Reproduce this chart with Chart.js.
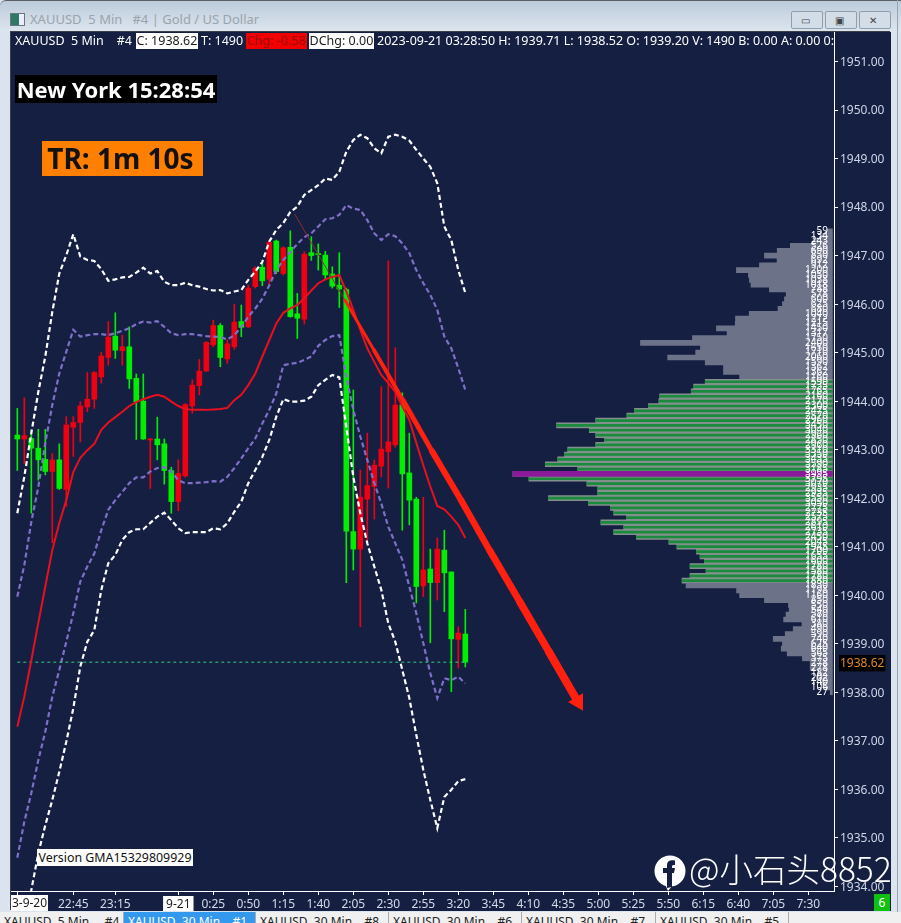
<!DOCTYPE html>
<html>
<head>
<meta charset="utf-8">
<title>XAUUSD 5 Min</title>
<script src="https://cdn.jsdelivr.net/npm/chart.js@4"></script>
<style>
  html, body { margin: 0; padding: 0; }
  body { width: 901px; height: 923px; position: relative; overflow: hidden; background: #dbe4ee; font-family: "Noto Sans", sans-serif; }
  #titlebar { position: absolute; left: 0; top: 0; width: 901px; height: 32px; background: linear-gradient(#bccbdb, #dde6ef); border-top: 1px solid #5b5f63; box-sizing: border-box; border-top-left-radius: 6px; }
  #titletext { position: absolute; left: 30px; top: 9px; font-size: 13px; color: #9aa3ab; white-space: pre; }
  #titleicon { position: absolute; left: 10px; top: 12px; width: 13px; height: 11px; border: 1px solid #6b7580; background: linear-gradient(90deg, #2c7a66 60%, #eef 60%); }
  .winbtn { position: absolute; top: 10px; width: 30px; height: 16px; border: 1px solid #8f9dac; border-radius: 2px; background: #d2dde8; }
  .winbtn span { position: absolute; left: 9px; top: 3px; font-size: 10px; line-height: 10px; color: #444; }
  #panel { position: absolute; left: 11px; top: 32px; width: 880px; height: 879px; background: #141f42; box-shadow: -1px -1px 0 #3c4046; }
  canvas { position: absolute; left: 0; top: 0; }
  .hdr { position: absolute; top: 33px; height: 16px; line-height: 16px; font-size: 12.5px; color: #fff; white-space: pre; }
  .box { background: #fff; color: #1b1b1b; text-align: center; }
  #chg { background: #f00000; color: #980808; text-align: center; }
  #hdrclip { position: absolute; left: 376px; top: 33px; width: 458px; height: 16px; overflow: hidden; }
  #clock { position: absolute; left: 15px; top: 75px; width: 202px; height: 28px; line-height: 28px; background: #000; color: #fff; font-weight: bold; font-size: 22px; text-align: center; white-space: pre; }
  #tr { position: absolute; left: 42px; top: 141px; width: 157px; height: 35px; padding-right: 4px; line-height: 35px; background: #ff7f00; color: #111; font-weight: bold; font-size: 28px; text-align: center; white-space: pre; }
  #version { position: absolute; left: 37px; top: 849px; width: 156px; height: 17px; line-height: 17px; background: #fff; color: #111; font-size: 12.4px; text-align: center; white-space: pre; }
  #firstdate { position: absolute; left: 11px; top: 895px; width: 37px; height: 16px; line-height: 16px; background: #fff; color: #1b1b1b; font-size: 12px; text-align: center; }
  #corner { position: absolute; left: 835px; top: 891px; width: 56px; height: 20px; background: #141f42; }
  #count { position: absolute; left: 39px; top: 3px; width: 16px; height: 17px; line-height: 17px; background: #10c010; color: #fff; font-size: 12px; text-align: center; }
  #wm { position: absolute; left: 689px; top: 846px; width: 203px; height: 44px; overflow: hidden; line-height: 44px; font-size: 33.5px; color: #fff; font-family: "Noto Sans CJK SC", "Noto Sans", sans-serif; font-weight: 300; white-space: pre; }
  #fb { position: absolute; left: 654px; top: 855px; }
  #tabs { position: absolute; left: 0; top: 912px; width: 901px; height: 11px; overflow: hidden; background: #f0f0f0; }
  .tab { position: absolute; top: 0; height: 11px; overflow: hidden; font-size: 12px; line-height: 19px; color: #222; white-space: pre; border-right: 1px solid #aaa; padding-left: 4px; box-sizing: border-box; }
  #rightedge { position: absolute; left: 897px; top: 0; width: 1px; height: 923px; background: #9aa5b0; }
</style>
</head>
<body>
<div id="titlebar">
  <div id="titleicon"></div>
  <div id="titletext">XAUUSD  5 Min   #4 | Gold / US Dollar</div>
  <div class="winbtn" style="left:791px"><span>▭</span></div>
  <div class="winbtn" style="left:825px"><span>▣</span></div>
  <div class="winbtn" style="left:859px"><span>✕</span></div>
</div>
<div id="rightedge"></div>
<div id="panel"></div>
<canvas id="chart" width="901" height="923"></canvas>
<div class="hdr" style="left:15px">XAUUSD  5 Min    #4</div>
<div class="hdr box" style="left:136px;width:62px">C: 1938.62</div>
<div class="hdr" style="left:201px">T: 1490</div>
<div class="hdr" id="chg" style="left:246px;width:61px">Chg: -0.58</div>
<div class="hdr box" style="left:309px;width:65px">DChg: 0.00</div>
<div id="hdrclip"><div class="hdr" style="left:1px;top:0">2023-09-21 03:28:50 H: 1939.71 L: 1938.52 O: 1939.20 V: 1490 B: 0.00 A: 0.00 0:00</div></div>
<div id="clock">New York 15:28:54</div>
<div id="tr">TR: 1m 10s</div>
<div id="version">Version GMA15329809929</div>
<div id="firstdate">3-9-20</div>
<div id="corner"><div id="count">6</div></div>
<svg id="fb" width="32" height="36" viewBox="0 0 32 36">
  <circle cx="16" cy="16" r="15.5" fill="#fff"/>
  <path d="M11 29 L14 36 L19 30 Z" fill="#fff"/>
  <path d="M13 33 V18 H9 V13 H13 V10 C13 6 16 4.5 21 5.5 V10 C18 9.5 18 10.5 18 13 H21 L20 18 H18 V32 Z" fill="#141f42"/>
</svg>
<div id="wm">@小石头8852</div>
<div id="tabs">
  <div class="tab" style="left:0;width:124px">XAUUSD  5 Min     #4</div>
  <div class="tab" style="left:124px;width:132px;background:#3399ee;color:#fff">XAUUSD  30 Min    #1</div>
  <div class="tab" style="left:256px;width:133px">XAUUSD  30 Min    #8</div>
  <div class="tab" style="left:389px;width:133px">XAUUSD  30 Min    #6</div>
  <div class="tab" style="left:522px;width:134px">XAUUSD  30 Min    #7</div>
  <div class="tab" style="left:656px;width:133px">XAUUSD  30 Min    #5</div>
</div>
<script>
const candleOpen = [1943.30,1943.22,1943.23,1943.03,1942.80,1942.55,1942.79,1942.18,1943.46,1943.56,1943.88,1944.04,1944.50,1944.90,1945.34,1945.04,1945.12,1944.47,1944.00,1943.20,1943.22,1943.12,1942.57,1941.93,1942.46,1943.90,1944.32,1944.62,1945.16,1945.56,1944.87,1945.12,1945.64,1945.53,1946.36,1946.76,1946.51,1947.30,1946.63,1947.17,1945.80,1945.69,1947.06,1947.03,1947.01,1946.62,1946.39,1946.30,1941.31,1940.95,1941.98,1942.24,1942.66,1942.96,1943.10,1943.92,1942.52,1941.98,1940.19,1940.54,1940.26,1940.93,1940.48,1939.09,1939.20];
const candleHigh = [1943.85,1944.07,1943.40,1943.42,1943.42,1942.92,1943.12,1943.68,1943.68,1943.99,1944.59,1944.61,1945.01,1945.64,1945.82,1945.36,1945.53,1944.56,1944.56,1943.23,1943.67,1943.22,1942.64,1942.79,1943.95,1944.44,1944.86,1945.23,1945.67,1945.60,1945.26,1946.00,1945.98,1946.39,1946.77,1946.84,1947.32,1947.32,1947.18,1947.51,1946.22,1947.08,1947.39,1947.24,1947.09,1946.77,1947.06,1946.33,1944.23,1942.58,1943.34,1942.79,1944.30,1946.89,1945.10,1944.17,1943.34,1942.02,1942.02,1940.95,1941.18,1941.34,1940.48,1939.35,1939.71];
const candleLow = [1942.57,1942.72,1941.69,1942.37,1942.48,1941.08,1942.18,1941.83,1942.86,1943.16,1943.78,1943.85,1944.37,1944.74,1944.88,1944.74,1944.26,1943.21,1943.21,1942.20,1942.79,1942.29,1941.69,1941.74,1942.43,1943.75,1944.13,1944.61,1945.12,1944.71,1944.78,1945.07,1945.33,1945.52,1946.33,1946.38,1946.36,1946.63,1946.60,1945.73,1945.29,1945.59,1946.90,1946.70,1946.50,1946.33,1945.93,1940.26,1940.52,1939.35,1941.08,1941.57,1942.44,1942.21,1943.05,1941.34,1941.45,1939.84,1939.97,1939.02,1939.90,1939.66,1938.01,1938.50,1938.52];
const candleClose = [1943.22,1943.29,1943.03,1942.79,1942.55,1942.79,1942.20,1943.51,1943.56,1943.90,1944.04,1944.59,1944.93,1945.32,1945.05,1945.12,1944.46,1943.99,1943.22,1943.22,1943.10,1942.57,1941.93,1942.51,1943.93,1944.33,1944.62,1945.21,1945.56,1944.90,1945.18,1945.63,1945.52,1946.33,1946.74,1946.48,1947.27,1946.67,1947.16,1945.74,1945.71,1947.03,1947.00,1947.02,1946.60,1946.37,1946.31,1941.32,1940.95,1942.02,1942.26,1942.68,1943.01,1943.16,1943.92,1942.50,1941.96,1940.18,1940.52,1940.26,1940.95,1940.46,1939.10,1939.22,1938.62];

const maLine = [1937.29,1937.91,1938.66,1939.43,1940.18,1940.93,1941.49,1941.96,1942.54,1942.83,1942.99,1943.12,1943.41,1943.56,1943.67,1943.78,1943.90,1943.98,1944.04,1944.09,1944.13,1944.09,1943.99,1943.90,1943.84,1943.82,1943.82,1943.82,1943.83,1943.84,1943.86,1944.02,1944.13,1944.33,1944.57,1944.92,1945.26,1945.60,1945.82,1945.91,1945.98,1946.12,1946.28,1946.43,1946.51,1946.56,1946.60,1946.26,1945.88,1945.47,1945.09,1944.81,1944.54,1944.37,1944.19,1943.89,1943.61,1943.14,1942.68,1942.24,1941.84,1941.77,1941.62,1941.45,1941.18];
const innerUpper = [1939.97,1940.62,1941.51,1942.23,1943.14,1943.92,1944.57,1945.02,1945.47,1945.33,1945.36,1945.38,1945.38,1945.36,1945.40,1945.45,1945.50,1945.59,1945.64,1945.62,1945.65,1945.53,1945.40,1945.36,1945.38,1945.38,1945.36,1945.34,1945.33,1945.32,1945.27,1945.36,1945.53,1945.74,1945.91,1946.11,1946.39,1946.70,1946.91,1947.07,1947.24,1947.38,1947.46,1947.60,1947.75,1947.77,1947.84,1948.04,1947.97,1947.94,1947.73,1947.46,1947.32,1947.44,1947.40,1947.25,1947.05,1946.70,1946.43,1946.19,1945.88,1945.33,1945.09,1944.68,1944.23];
const innerLower = [1934.59,1935.33,1935.92,1936.60,1937.19,1937.91,1938.46,1939.04,1939.63,1940.28,1940.59,1940.86,1941.34,1941.76,1941.96,1942.13,1942.31,1942.43,1942.43,1942.55,1942.62,1942.64,1942.55,1942.37,1942.31,1942.31,1942.32,1942.33,1942.35,1942.34,1942.44,1942.62,1942.82,1943.03,1943.23,1943.54,1943.82,1944.16,1944.74,1944.77,1944.79,1944.85,1944.92,1945.14,1945.26,1945.34,1945.36,1944.50,1943.82,1943.27,1942.79,1942.31,1941.89,1941.41,1941.07,1940.73,1940.18,1939.63,1939.01,1938.39,1937.88,1938.29,1938.25,1938.32,1938.18];
const outerUpper = [1941.69,1942.44,1943.34,1944.19,1944.92,1945.84,1946.63,1947.01,1947.44,1946.98,1946.91,1946.89,1946.72,1946.48,1946.51,1946.55,1946.56,1946.65,1946.75,1946.63,1946.68,1946.46,1946.39,1946.39,1946.44,1946.39,1946.36,1946.31,1946.28,1946.29,1946.22,1946.26,1946.29,1946.50,1946.67,1946.87,1947.29,1947.53,1947.67,1947.90,1948.01,1948.25,1948.35,1948.45,1948.59,1948.56,1948.73,1949.14,1949.38,1949.49,1949.42,1949.21,1949.11,1949.45,1949.49,1949.45,1949.37,1949.18,1949.00,1948.83,1948.49,1947.60,1947.32,1946.70,1946.23];
const outerLower = [1932.07,1933.00,1933.92,1934.68,1935.26,1935.78,1936.36,1936.98,1937.67,1938.53,1939.04,1939.28,1940.11,1940.66,1940.83,1941.14,1941.30,1941.36,1941.36,1941.49,1941.62,1941.70,1941.55,1941.38,1941.28,1941.30,1941.30,1941.30,1941.38,1941.36,1941.48,1941.72,1941.93,1942.31,1942.58,1942.85,1943.20,1943.68,1944.04,1943.99,1943.99,1944.01,1944.09,1944.33,1944.44,1944.54,1944.49,1943.47,1942.44,1941.69,1941.07,1940.59,1940.11,1939.42,1939.04,1938.46,1937.88,1937.12,1936.40,1935.78,1935.20,1935.84,1935.99,1936.17,1936.21];

const priceLineBars = [0, 64];
const priceLineValues = [1938.62, 1938.62];
const arrowBars = [46.81, 50.96, 55.1, 59.24, 63.39, 67.53, 71.81, 75.96, 80.1];
const arrowValues = [1946.08, 1945.05, 1944.02, 1942.97, 1941.96, 1940.91, 1939.86, 1938.83, 1937.80];
const trendBars = [39.6, 46.81];
const trendValues = [1947.86, 1946.08];

const profilePrices = [1947.5,1947.4,1947.3,1947.2,1947.1,1947.0,1946.9,1946.8,1946.7,1946.6,1946.5,1946.4,1946.3,1946.2,1946.1,1946.0,1945.9,1945.8,1945.7,1945.6,1945.5,1945.4,1945.3,1945.2,1945.1,1945.0,1944.9,1944.8,1944.7,1944.6,1944.5,1944.4,1944.3,1944.2,1944.1,1944.0,1943.9,1943.8,1943.7,1943.6,1943.5,1943.4,1943.3,1943.2,1943.1,1943.0,1942.9,1942.8,1942.7,1942.6,1942.5,1942.4,1942.3,1942.2,1942.1,1942.0,1941.9,1941.8,1941.7,1941.6,1941.5,1941.4,1941.3,1941.2,1941.1,1941.0,1940.9,1940.8,1940.7,1940.6,1940.5,1940.4,1940.3,1940.2,1940.1,1940.0,1939.9,1939.8,1939.7,1939.6,1939.5,1939.4,1939.3,1939.2,1939.1,1939.0,1938.9,1938.8,1938.7,1938.6,1938.5,1938.4,1938.3,1938.2,1938.1,1938.0];
const profileVolumes = [59,134,243,526,690,850,692,912,1200,1050,1038,1018,788,578,600,625,680,1040,1212,1215,1450,1317,1750,2400,1650,1710,2060,1590,1362,1362,1160,1590,1735,1765,2160,2170,2300,2475,2570,2960,3450,3040,2960,2850,2960,3310,3350,3435,3590,3185,3995,3795,3070,2935,2935,3550,3050,2775,2735,2575,2895,2610,2735,2450,2045,1945,1700,1655,1600,1780,1580,1780,1880,1830,1198,1160,850,550,540,580,610,380,490,590,740,625,640,565,375,278,278,182,202,140,106,27];
const valueAreaHigh = 1944.4;
const valueAreaLow = 1940.3;
const pocPrice = 1942.5;

const currentPrice = 1938.62;
const xTickBars = [0,8,14,23,28,33,38,43,48,53,58,63,68,73,78,83,88,93,98,103,108,113];
const xTickLabels = ['','22:45','23:15','9-21','0:25','0:50','1:15','1:40','2:05','2:30','2:55','3:20','3:45','4:10','4:35','5:00','5:25','5:50','6:15','6:40','7:05','7:30'];
const yTickValues = [1951,1950,1949,1948,1947,1946,1945,1944,1943,1942,1941,1940,1939,currentPrice,1938,1937,1936,1935,1934];

const bullColor = '#f00010';
const bearColor = '#00ee00';
const barIndexes = candleOpen.map((v, i) => i);
const candleColor = ctx => candleClose[ctx.dataIndex] < candleOpen[ctx.dataIndex] ? bearColor : bullColor;

function lineSet(values, color, width, dash, order) {
  return {
    type: 'line',
    data: values.map((y, i) => ({ x: i, y: y })),
    borderColor: color,
    borderWidth: width,
    borderDash: dash,
    pointRadius: 0,
    tension: 0,
    fill: false,
    order: order,
    xAxisID: 'x',
    yAxisID: 'y'
  };
}

function profileSet(rows, color, thickness, order) {
  return {
    type: 'bar',
    indexAxis: 'y',
    data: rows,
    backgroundColor: color,
    barThickness: thickness,
    maxBarThickness: thickness,
    grouped: false,
    order: order,
    xAxisID: 'vol',
    yAxisID: 'yProfile'
  };
}

const profileRows = profilePrices.map((p, i) => ({ x: profileVolumes[i], y: p }));
const inValueArea = r => r.y <= valueAreaHigh && r.y >= valueAreaLow;
const isPoc = r => r.y === pocPrice;

const profileLabels = {
  id: 'profileLabels',
  afterDatasetsDraw(chart) {
    const c = chart.ctx;
    const scale = chart.scales.yProfile;
    c.save();
    c.font = '10px "Noto Sans"';
    c.fillStyle = '#ffffff';
    c.textAlign = 'right';
    c.textBaseline = 'middle';
    profilePrices.forEach((p, i) => {
      c.fillText(String(profileVolumes[i]), 828, scale.getPixelForValue(p));
    });
    c.restore();
  }
};

const arrowWidths = [3, 4, 5, 6, 6.5, 7, 7.5, 8];
const arrowSet = lineSet([], '#ff2010', 8, [], 1);
arrowSet.data = arrowBars.map((x, i) => ({ x: x, y: arrowValues[i] }));
arrowSet.segment = { borderWidth: ctx => arrowWidths[ctx.p0DataIndex] };
arrowSet.borderCapStyle = 'round';
arrowSet.pointStyle = 'triangle';
arrowSet.pointRotation = 150;
arrowSet.pointRadius = [0, 0, 0, 0, 0, 0, 0, 0, 10];
arrowSet.pointBorderWidth = 0;
arrowSet.pointBackgroundColor = '#ff2010';

const trendSet = lineSet([], '#8c2f30', 1, [], 2);
trendSet.data = trendBars.map((x, i) => ({ x: x, y: trendValues[i] }));

const priceSet = lineSet([], '#35d07a', 1, [3, 3], 4);
priceSet.data = priceLineBars.map((x, i) => ({ x: x, y: priceLineValues[i] }));

new Chart(document.getElementById('chart').getContext('2d'), {
  type: 'bar',
  data: {
    datasets: [
      profileSet(profileRows, ctx => inValueArea(profileRows[ctx.dataIndex]) ? '#84908e' : '#6c7288', 5, 12),
      profileSet(profileRows.filter(r => inValueArea(r) && !isPoc(r)), '#1a8a3c', 2, 11),
      profileSet(profileRows.filter(isPoc), '#8a1a9a', 5, 10),
      {
        type: 'bar',
        data: barIndexes.map(i => ({ x: i, y: [candleLow[i], candleHigh[i]] })),
        backgroundColor: candleColor,
        barThickness: 1,
        maxBarThickness: 1,
        grouped: false,
        order: 8,
        xAxisID: 'x',
        yAxisID: 'y'
      },
      {
        type: 'bar',
        data: barIndexes.map(i => ({ x: i, y: [candleOpen[i], candleClose[i]] })),
        backgroundColor: candleColor,
        barThickness: 5,
        maxBarThickness: 5,
        minBarLength: 1,
        grouped: false,
        order: 7,
        xAxisID: 'x',
        yAxisID: 'y'
      },
      lineSet(outerUpper, '#ffffff', 2.2, [5, 3], 5),
      lineSet(outerLower, '#ffffff', 2.2, [5, 3], 5),
      lineSet(innerUpper, '#7f6fc8', 2.2, [5, 3], 5),
      lineSet(innerLower, '#7f6fc8', 2.2, [5, 3], 5),
      priceSet,
      lineSet(maLine, '#e8101e', 2, [], 3),
      trendSet,
      arrowSet
    ]
  },
  options: {
    responsive: false,
    animation: false,
    events: [],
    layout: { padding: { left: 11, top: 32, right: 10, bottom: 12 } },
    plugins: { legend: { display: false }, tooltip: { enabled: false } },
    scales: {
      x: {
        type: 'linear',
        position: 'bottom',
        offset: false,
        min: -0.9,
        max: 116.67,
        afterBuildTicks(scale) { scale.ticks = xTickBars.map(v => ({ value: v })); },
        afterFit(scale) { scale.height = 20; },
        grid: { offset: false, drawOnChartArea: false, drawTicks: true, tickLength: 4, color: '#ffffff' },
        border: { color: '#ffffff', width: 1 },
        ticks: {
          autoSkip: false,
          maxRotation: 0,
          padding: 2,
          font: { family: 'Noto Sans', size: 12 },
          callback(value, index) { return xTickLabels[index]; },
          color: ctx => ctx.index === 3 ? '#1b1b1b' : '#d6dbe8',
          showLabelBackdrop: ctx => ctx.index === 3,
          backdropColor: '#ffffff',
          backdropPadding: { left: 3, right: 3, top: 1, bottom: 0 }
        }
      },
      y: {
        type: 'linear',
        position: 'right',
        min: 1933.904,
        max: 1951.608,
        afterBuildTicks(scale) { scale.ticks = yTickValues.map(v => ({ value: v })); },
        afterFit(scale) { scale.width = 57; },
        grid: {
          drawOnChartArea: false,
          drawTicks: true,
          tickLength: 4,
          tickColor: ctx => ctx.tick && ctx.tick.value === currentPrice ? 'rgba(0,0,0,0)' : '#ffffff'
        },
        border: { color: '#ffffff', width: 1 },
        ticks: {
          autoSkip: false,
          padding: 2,
          labelOffset: 1,
          font: { family: 'Noto Sans', size: 12 },
          callback(value) { return value.toFixed(2); },
          color: ctx => ctx.tick.value === currentPrice ? '#e08a20' : '#cfd6e6',
          showLabelBackdrop: ctx => ctx.tick.value === currentPrice,
          backdropColor: '#000000',
          backdropPadding: 1
        }
      },
      // bar defaults turn offset on for this axis too, which squeezes the profile
      vol: { type: 'linear', axis: 'x', display: false, offset: false, reverse: true, min: -20, max: 10271 },
      yProfile: { type: 'linear', axis: 'y', display: false, offset: false, min: 1933.904, max: 1951.608 }
    }
  },
  plugins: [profileLabels]
});
</script>
</body>
</html>
